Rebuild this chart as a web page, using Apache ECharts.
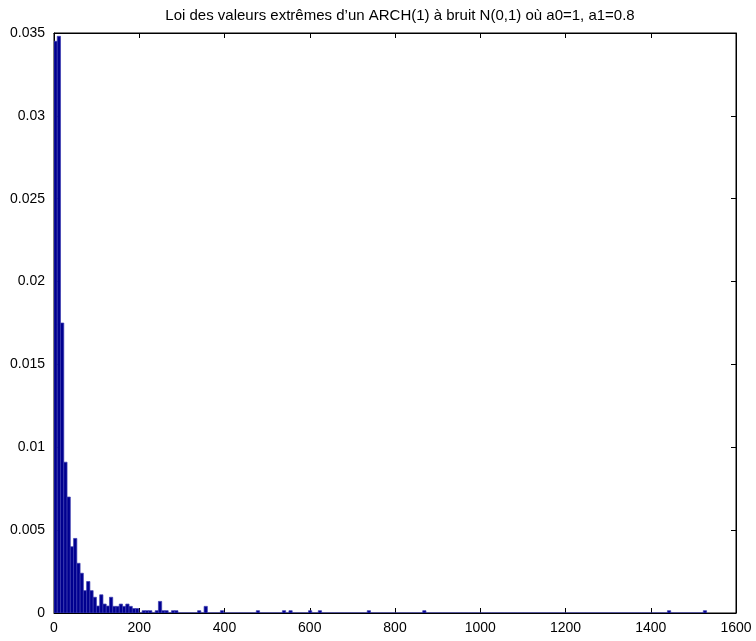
<!DOCTYPE html>
<html>
<head>
<meta charset="utf-8">
<script src="https://cdn.jsdelivr.net/npm/echarts@6/dist/echarts.min.js"></script>
<style>html,body{margin:0;padding:0;background:#fff}#c{width:756px;height:641px}</style>
</head>
<body>
<div id="c"></div>
<script>
const titleText = "Loi des valeurs extrêmes d’un ARCH(1) à bruit N(0,1) où a0=1, a1=0.8";
const binStart = 0;
const binEnd = 1531;
// densities for 200 histogram bins
const densities = [
  0.0345, 0.0348, 0.0175, 0.0091, 0.0070, 0.0040, 0.0045, 0.0030, 0.0024, 0.00135,
  0.0019, 0.00135, 0.00095, 0.00042, 0.0011, 0.00054, 0.00042, 0.00095, 0.00040, 0.00040,
  0.00054, 0.00040, 0.00054, 0.00040, 0.00027, 0.00027, 0, 0.00014, 0.00014, 0.00014,
  0, 0.00014, 0.0007, 0.00014, 0.00014, 0, 0.00014, 0.00014, 0, 0,
  0, 0, 0, 0, 0.00014, 0, 0.0004, 0, 0, 0,
  0, 0.00014, 0, 0, 0, 0, 0, 0, 0, 0,
  0, 0, 0.00014, 0, 0, 0, 0, 0, 0, 0,
  0.00014, 0, 0.00014, 0, 0, 0, 0, 0, 0.00014, 0,
  0, 0.00014, 0, 0, 0, 0, 0, 0, 0, 0,
  0, 0, 0, 0, 0, 0, 0.00014, 0, 0, 0,
  0, 0, 0, 0, 0, 0, 0, 0, 0, 0,
  0, 0, 0, 0.00014, 0, 0, 0, 0, 0, 0,
  0, 0, 0, 0, 0, 0, 0, 0, 0, 0,
  0, 0, 0, 0, 0, 0, 0, 0, 0, 0,
  0, 0, 0, 0, 0, 0, 0, 0, 0, 0,
  0, 0, 0, 0, 0, 0, 0, 0, 0, 0,
  0, 0, 0, 0, 0, 0, 0, 0, 0, 0,
  0, 0, 0, 0, 0, 0, 0, 0, 0, 0,
  0, 0, 0, 0, 0, 0, 0, 0, 0.00014, 0,
  0, 0, 0, 0, 0, 0, 0, 0, 0, 0.00014
];
const xMin = 0, xMax = 1600, xInterval = 200;
const yMin = 0, yMax = 0.035, yInterval = 0.005;

const bw = (binEnd - binStart) / densities.length;
const histData = densities.map((v, i) => [binStart + i * bw, binStart + (i + 1) * bw, v]);

const font = 'Helvetica, "Liberation Sans", Arial, sans-serif';
const axisCommon = {
  axisLine: {show: true, onZero: false, lineStyle: {color: '#000', width: 1}},
  axisTick: {show: true, inside: true, length: 5, lineStyle: {color: '#000'}},
  splitLine: {show: false}
};
const chart = echarts.init(document.getElementById('c'), null, {renderer: 'canvas'});
chart.setOption({
  animation: false,
  backgroundColor: '#fff',
  title: {
    text: titleText, left: 395, top: 3, textAlign: 'center',
    textStyle: {fontFamily: font, fontSize: 15, fontWeight: 'normal', color: '#000'}
  },
  grid: {left: 54, right: 20, top: 33, bottom: 28, containLabel: false,
    show: true, borderColor: '#000', borderWidth: 1, backgroundColor: 'transparent'},
  xAxis: [
    Object.assign({type: 'value', min: xMin, max: xMax, interval: xInterval, position: 'bottom',
      axisLabel: {fontFamily: font, fontSize: 14, color: '#000', margin: 8,
        formatter: v => String(v)}}, axisCommon),
    Object.assign({type: 'value', min: xMin, max: xMax, interval: xInterval, position: 'top',
      axisLabel: {show: false}}, axisCommon)
  ],
  yAxis: [
    Object.assign({type: 'value', min: yMin, max: yMax, interval: yInterval, position: 'left',
      axisLabel: {fontFamily: font, fontSize: 14, color: '#000', margin: 9}}, axisCommon),
    Object.assign({type: 'value', min: yMin, max: yMax, interval: yInterval, position: 'right',
      axisLabel: {show: false}}, axisCommon)
  ],
  series: [{
    type: 'custom',
    xAxisIndex: 0, yAxisIndex: 0,
    data: histData,
    clip: true,
    encode: {x: [0, 1], y: 2},
    renderItem: function (params, api) {
      const p0 = api.coord([api.value(0), api.value(2)]);
      const p1 = api.coord([api.value(1), 0]);
      return {
        type: 'rect',
        shape: {x: p0[0], y: p0[1], width: p1[0] - p0[0], height: p1[1] - p0[1]},
        style: {fill: '#00008f', stroke: '#3c3cb0', lineWidth: 0.7}
      };
    }
  }]
});
</script>
</body>
</html>
